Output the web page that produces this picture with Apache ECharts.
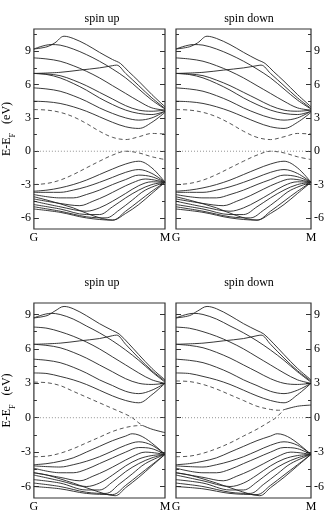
<!DOCTYPE html>
<html>
<head>
<meta charset="utf-8">
<script src="https://cdn.jsdelivr.net/npm/echarts@6/dist/echarts.min.js"></script>
<style>
  html, body { margin: 0; padding: 0; background: #fff; }
  #chart { width: 327px; height: 513px; }
</style>
</head>
<body>
<div id="chart"></div>
<script>
// k-path: G -> M, scaled to 0..1
const kLabels = ['G', 'M'];
const majorTicks = [-6, -3, 0, 3, 6, 9];
const minorTicks = [-4.5, -1.5, 1.5, 4.5, 7.5, 10.5];
const fermiLevel = [[0, 0], [1, 0]];

// top row (spin up and spin down look the same)
const topConduction = [
  [[0,9.2],[0.1,9.4],[0.16,9.75],[0.23,10.35],[0.3,10.15],[0.4,9.6],[0.5,8.9],[0.6,8.25],[0.66,7.9],[0.72,7.2],[0.8,6.3],[0.9,5.1],[1,4.0]],
  [[0,9.2],[0.13,9.6],[0.2,9.55],[0.3,9.2],[0.4,8.7],[0.5,8.1],[0.6,7.4],[0.7,6.6],[0.8,5.6],[0.9,4.6],[1,3.8]],
  [[0,8.4],[0.1,8.3],[0.2,8.1],[0.3,7.7],[0.4,7.2],[0.5,6.6],[0.6,5.9],[0.7,5.2],[0.8,4.5],[0.9,3.9],[1,3.7]],
  [[0,7.0],[0.2,7.1],[0.35,7.3],[0.5,7.5],[0.6,7.7],[0.63,7.75],[0.7,7.0],[0.8,5.9],[0.9,4.8],[1,3.85]],
  [[0,7.0],[0.1,6.95],[0.2,6.8],[0.3,6.4],[0.4,5.9],[0.5,5.3],[0.6,4.7],[0.7,4.1],[0.8,3.7],[0.9,3.6],[1,3.7]],
  [[0,7.0],[0.1,6.9],[0.2,6.6],[0.3,6.1],[0.4,5.5],[0.5,4.8],[0.6,4.2],[0.7,3.7],[0.8,3.4],[0.9,3.3],[1,3.6]],
  [[0,5.7],[0.1,5.6],[0.2,5.4],[0.3,5.0],[0.4,4.5],[0.5,3.9],[0.6,3.4],[0.7,3.0],[0.8,2.8],[0.9,3.0],[1,3.6]],
  [[0,4.5],[0.1,4.45],[0.2,4.3],[0.3,4.0],[0.4,3.6],[0.5,3.1],[0.6,2.6],[0.7,2.2],[0.8,2.05],[0.9,2.6],[1,3.5]]
];
const topGapCond = [[0,3.75],[0.1,3.7],[0.2,3.5],[0.3,3.1],[0.4,2.5],[0.5,1.8],[0.6,1.25],[0.7,1.05],[0.8,1.3],[0.9,1.6],[1,1.55]];
const topGapVal = [[0,-3.0],[0.1,-2.9],[0.2,-2.6],[0.3,-2.1],[0.4,-1.5],[0.5,-0.9],[0.6,-0.35],[0.7,0.0],[0.8,-0.15],[0.9,-0.5],[1,-0.75]];
const topGapTail = [];
const topValence = [
  [[0,-3.6],[0.1,-3.5],[0.2,-3.3],[0.3,-3.0],[0.4,-2.6],[0.5,-2.1],[0.6,-1.6],[0.7,-1.15],[0.8,-0.9],[0.9,-1.5],[1,-2.8]],
  [[0,-3.7],[0.1,-3.7],[0.2,-3.7],[0.3,-3.5],[0.4,-3.2],[0.5,-2.8],[0.6,-2.35],[0.7,-1.9],[0.8,-1.65],[0.9,-2.0],[1,-2.8]],
  [[0,-3.9],[0.2,-4.2],[0.3,-4.2],[0.4,-3.9],[0.5,-3.5],[0.6,-3.0],[0.7,-2.55],[0.8,-2.15],[0.9,-2.3],[1,-2.8]],
  [[0,-4.3],[0.2,-4.7],[0.35,-4.9],[0.45,-4.5],[0.55,-4.0],[0.65,-3.4],[0.75,-2.85],[0.85,-2.5],[1,-2.8]],
  [[0,-4.5],[0.2,-5.0],[0.4,-5.4],[0.5,-5.1],[0.6,-4.5],[0.7,-3.8],[0.8,-3.1],[0.9,-2.75],[1,-2.8]],
  [[0,-4.8],[0.2,-5.2],[0.4,-5.7],[0.5,-5.7],[0.6,-5.0],[0.7,-4.2],[0.8,-3.5],[0.9,-3.0],[1,-2.8]],
  [[0,-5.0],[0.2,-5.4],[0.4,-5.9],[0.55,-6.0],[0.65,-5.3],[0.75,-4.4],[0.85,-3.5],[1,-2.8]],
  [[0,-5.2],[0.2,-5.5],[0.4,-6.0],[0.6,-6.2],[0.7,-5.4],[0.8,-4.5],[0.9,-3.6],[1,-2.8]],
  [[0,-4.1],[0.1,-4.4],[0.3,-5.1],[0.45,-5.8],[0.6,-6.2],[0.7,-5.6],[0.8,-4.8],[0.9,-3.8],[1,-2.8]]
];

// bottom row, spin up
const botUpConduction = [
  [[0,8.7],[0.1,8.9],[0.16,9.3],[0.23,9.7],[0.3,9.5],[0.4,8.9],[0.5,8.2],[0.6,7.6],[0.65,7.3],[0.72,6.5],[0.8,5.5],[0.9,4.3],[1,3.3]],
  [[0,8.7],[0.13,9.1],[0.2,9.0],[0.3,8.6],[0.4,8.0],[0.5,7.4],[0.6,6.7],[0.7,5.9],[0.8,5.0],[0.9,4.0],[1,3.1]],
  [[0,7.9],[0.1,7.8],[0.2,7.5],[0.3,7.1],[0.4,6.6],[0.5,6.0],[0.6,5.3],[0.7,4.6],[0.8,3.9],[0.9,3.3],[1,3.0]],
  [[0,6.4],[0.2,6.5],[0.35,6.7],[0.5,6.9],[0.6,7.15],[0.63,7.2],[0.7,6.4],[0.8,5.2],[0.9,4.1],[1,3.2]],
  [[0,6.4],[0.1,6.3],[0.2,6.1],[0.3,5.7],[0.4,5.2],[0.5,4.6],[0.6,4.0],[0.7,3.4],[0.8,3.0],[0.9,2.9],[1,3.0]],
  [[0,5.1],[0.1,5.0],[0.2,4.8],[0.3,4.4],[0.4,3.9],[0.5,3.3],[0.6,2.8],[0.7,2.3],[0.8,2.1],[0.9,2.4],[1,3.0]],
  [[0,3.9],[0.1,3.85],[0.2,3.6],[0.3,3.3],[0.4,2.9],[0.5,2.4],[0.6,1.9],[0.7,1.5],[0.8,1.3],[0.9,2.0],[1,3.0]]
];
const botUpGapCond = [[0,3.1],[0.1,3.05],[0.2,2.8],[0.3,2.3],[0.4,1.8],[0.5,1.3],[0.6,0.8],[0.7,0.3],[0.75,0.0],[0.8,-0.45],[0.83,-0.68]];
const botUpGapVal = [[0,-3.4],[0.1,-3.35],[0.2,-3.1],[0.3,-2.7],[0.4,-2.2],[0.5,-1.7],[0.6,-1.2],[0.7,-0.85],[0.78,-0.7],[0.83,-0.68]];
const botUpGapTail = [[0.83,-0.68],[0.9,-1.0],[1,-1.3]];
const botUpValence = [
  [[0,-4.1],[0.1,-4.0],[0.2,-3.8],[0.3,-3.5],[0.4,-3.0],[0.5,-2.5],[0.6,-2.0],[0.7,-1.6],[0.75,-1.4],[0.85,-1.8],[1,-3.2]],
  [[0,-4.2],[0.2,-4.3],[0.3,-4.1],[0.4,-3.8],[0.5,-3.4],[0.6,-2.9],[0.7,-2.4],[0.8,-2.1],[0.9,-2.4],[1,-3.2]],
  [[0,-4.4],[0.2,-4.8],[0.3,-4.8],[0.4,-4.5],[0.5,-4.0],[0.6,-3.5],[0.7,-3.0],[0.8,-2.6],[0.9,-2.7],[1,-3.2]],
  [[0,-4.8],[0.2,-5.2],[0.35,-5.5],[0.45,-5.1],[0.55,-4.6],[0.65,-4.0],[0.75,-3.4],[0.85,-3.0],[1,-3.2]],
  [[0,-5.0],[0.2,-5.5],[0.4,-6.0],[0.5,-5.7],[0.6,-5.0],[0.7,-4.2],[0.8,-3.6],[0.9,-3.3],[1,-3.2]],
  [[0,-5.4],[0.2,-5.7],[0.4,-6.3],[0.5,-6.3],[0.6,-5.6],[0.7,-4.7],[0.8,-4.0],[0.9,-3.5],[1,-3.2]],
  [[0,-5.7],[0.2,-6.0],[0.4,-6.5],[0.55,-6.6],[0.65,-5.8],[0.75,-4.9],[0.85,-4.0],[1,-3.2]],
  [[0,-6.0],[0.2,-6.2],[0.4,-6.6],[0.6,-6.7],[0.7,-5.9],[0.8,-5.0],[0.9,-4.1],[1,-3.2]],
  [[0,-4.8],[0.1,-5.0],[0.3,-5.7],[0.45,-6.3],[0.62,-6.8],[0.7,-6.1],[0.8,-5.2],[0.9,-4.2],[1,-3.2]]
];

// bottom row, spin down
const botDnConduction = botUpConduction;
const botDnGapCond = [[0,3.2],[0.1,3.15],[0.2,2.9],[0.3,2.5],[0.4,2.0],[0.5,1.5],[0.6,1.0],[0.7,0.72],[0.76,0.65],[0.8,0.7]];
const botDnGapVal = [[0,-3.4],[0.1,-3.35],[0.2,-3.1],[0.3,-2.7],[0.4,-2.2],[0.5,-1.6],[0.6,-1.0],[0.7,-0.3],[0.74,0.0],[0.8,0.7]];
const botDnGapTail = [[0.8,0.7],[0.9,1.0],[1,1.1]];
const botDnValence = botUpValence;

const FONT = 'Liberation Serif';
const grids = [
  { left: 29, top: 29, width: 136, height: 200 },
  { left: 176, top: 29, width: 137, height: 200 },
  { left: 29, top: 303, width: 136, height: 199 },
  { left: 176, top: 303, width: 137, height: 199 }
];
const yRanges = [[-7, 11], [-7, 11], [-7, 10], [-7, 10]];

const xAxis = [];
const yAxis = [];
grids.forEach((g, i) => {
  xAxis.push({
    type: 'value', gridIndex: i, min: 0, max: 1,
    axisLine: { show: false },
    axisTick: { show: false },
    splitLine: { show: false },
    axisLabel: {
      customValues: [0, 1],
      formatter: (v) => (v === 0 ? kLabels[0] : kLabels[1]),
      color: '#000', fontFamily: FONT, fontSize: 12, margin: 3
    }
  });
  const isLeft = i % 2 === 0;
  ['left', 'right'].forEach((pos) => {
    const showLabel = (pos === 'left') === isLeft;
    yAxis.push({
      type: 'value', gridIndex: i, position: pos,
      min: yRanges[i][0], max: yRanges[i][1],
      axisLine: { show: false },
      splitLine: { show: false },
      axisTick: { inside: true, length: 5, customValues: majorTicks, lineStyle: { color: '#333', width: 1 } },
      axisLabel: { show: showLabel, customValues: majorTicks, color: '#000', fontFamily: FONT, fontSize: 12, margin: 3 },
      name: (pos === 'left' && isLeft) ? '{a|E-E}{s|F}{a|   (eV)}' : '',
      nameLocation: 'middle',
      nameGap: 15,
      nameTextStyle: {
        rich: {
          a: { fontFamily: FONT, fontSize: 12, color: '#000' },
          s: { fontFamily: FONT, fontSize: 8, color: '#000', verticalAlign: 'bottom', padding: [0, 0, -4, 0] }
        }
      }
    });
  });
  ['left', 'right'].forEach((pos) => {
    yAxis.push({
      type: 'value', gridIndex: i, position: pos,
      min: yRanges[i][0], max: yRanges[i][1],
      axisLine: { show: false },
      splitLine: { show: false },
      axisLabel: { show: false },
      axisTick: { inside: true, length: 3, customValues: minorTicks, lineStyle: { color: '#333', width: 1 } }
    });
  });
});

const series = [];
function addPanel(idx, cond, gapCond, gapVal, gapTail, val) {
  const base = { type: 'line', xAxisIndex: idx, yAxisIndex: idx * 4, showSymbol: false, smooth: 0.35, silent: true, animation: false };
  cond.concat(val).forEach((b) => {
    series.push(Object.assign({}, base, { data: b, lineStyle: { color: '#222', width: 0.9 } }));
  });
  if (gapTail.length) {
    series.push(Object.assign({}, base, { data: gapTail, lineStyle: { color: '#222', width: 0.9 } }));
  }
  [gapCond, gapVal].forEach((b) => {
    series.push(Object.assign({}, base, { data: b, lineStyle: { color: '#444', width: 0.9, type: [4, 3] } }));
  });
  series.push(Object.assign({}, base, { data: fermiLevel, smooth: false, lineStyle: { color: '#777', width: 0.8, type: [1, 2] } }));
}
addPanel(0, topConduction, topGapCond, topGapVal, topGapTail, topValence);
addPanel(1, topConduction, topGapCond, topGapVal, topGapTail, topValence);
addPanel(2, botUpConduction, botUpGapCond, botUpGapVal, botUpGapTail, botUpValence);
addPanel(3, botDnConduction, botDnGapCond, botDnGapVal, botDnGapTail, botDnValence);

const titleStyle = { fontFamily: FONT, fontSize: 12, fontWeight: 'normal', color: '#000' };
const chart = echarts.init(document.getElementById('chart'), null, { renderer: 'canvas' });
chart.setOption({
  animation: false,
  title: [
    { text: 'spin up', left: 97, top: 8, textAlign: 'center', textStyle: titleStyle },
    { text: 'spin down', left: 244, top: 8, textAlign: 'center', textStyle: titleStyle },
    { text: 'spin up', left: 97, top: 272, textAlign: 'center', textStyle: titleStyle },
    { text: 'spin down', left: 244, top: 272, textAlign: 'center', textStyle: titleStyle }
  ],
  grid: grids.map((g) => Object.assign({ show: true, borderColor: '#333', borderWidth: 1.2, backgroundColor: 'transparent' }, g)),
  xAxis: xAxis,
  yAxis: yAxis,
  series: series
});
</script>
</body>
</html>
